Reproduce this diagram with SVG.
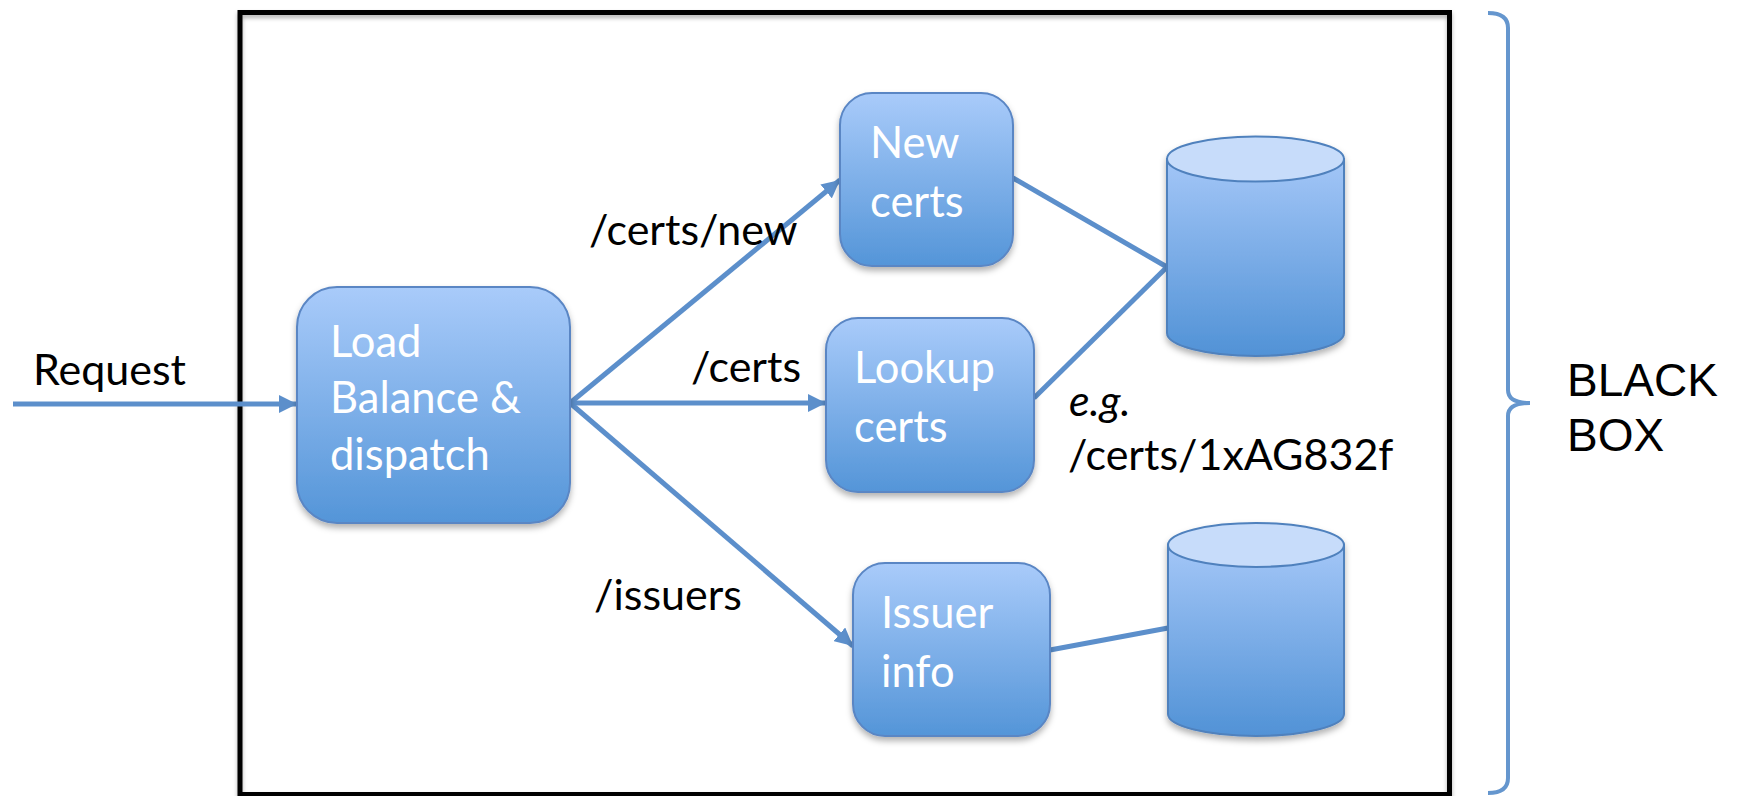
<svg xmlns="http://www.w3.org/2000/svg" width="1742" height="796" viewBox="0 0 1742 796">
  <style>
    .node-text { font-family: Lato, "Open Sans", sans-serif; font-size: 43.5px; fill: #ffffff; }
    .label { font-family: Lato, "Open Sans", sans-serif; font-size: 43px; fill: #000000; }
    .box { fill: url(#boxFill); stroke: #5A86C4; stroke-width: 2; filter: url(#shadow); }
    .drum { fill: url(#drumFill); stroke: #4F81BD; stroke-width: 2; }
    .drum-top { fill: #C7DCFA; stroke: #4F81BD; stroke-width: 2; }
    .edge { fill: none; stroke: #5C8FCB; stroke-width: 5; }
    .arrow { marker-end: url(#head); }
  </style>
  <defs>
    <linearGradient id="boxFill" x1="0" y1="0" x2="0" y2="1">
      <stop offset="0" stop-color="#A9CBFA"/>
      <stop offset="1" stop-color="#5495D8"/>
    </linearGradient>
    <linearGradient id="drumFill" x1="0" y1="0" x2="0" y2="1">
      <stop offset="0" stop-color="#A3C6F7"/>
      <stop offset="1" stop-color="#5192D6"/>
    </linearGradient>
    <filter id="shadow" x="-10%" y="-10%" width="130%" height="130%">
      <feDropShadow dx="0" dy="4" stdDeviation="3" flood-color="#000000" flood-opacity="0.3"/>
    </filter>
    <filter id="frameShadow" x="-5%" y="-5%" width="110%" height="110%">
      <feDropShadow dx="0" dy="3" stdDeviation="2" flood-color="#000000" flood-opacity="0.3"/>
    </filter>
    <marker id="head" markerUnits="userSpaceOnUse" markerWidth="20" markerHeight="18" refX="18" refY="9" orient="auto">
      <path d="M0,0 L18,9 L0,18 Z" fill="#5C8FCB"/>
    </marker>
  </defs>

  <!-- outer frame -->
  <rect id="frame" x="240" y="12.5" width="1209.5" height="782" fill="none" stroke="#000000" stroke-width="5" filter="url(#frameShadow)"/>

  <!-- brace and caption -->
  <g id="brace">
    <path d="M1488,13 Q1508,13 1508,28 L1508,390 Q1508,403 1530,403 Q1508,403 1508,416 L1508,778 Q1508,793 1488,793" fill="none" stroke="#6596CE" stroke-width="4"/>
    <text x="1567" y="396" font-family="'Liberation Sans', Arial, sans-serif" font-size="46">BLACK</text>
    <text x="1567" y="451" font-family="'Liberation Sans', Arial, sans-serif" font-size="46">BOX</text>
  </g>

  <!-- connectors -->
  <g id="connectors">
    <line class="edge arrow" x1="13" y1="404" x2="297" y2="404"/>
    <line class="edge arrow" x1="570" y1="403" x2="840" y2="180"/>
    <line class="edge arrow" x1="570" y1="403" x2="826" y2="403"/>
    <line class="edge arrow" x1="570" y1="403" x2="853" y2="646"/>
    <line class="edge" x1="1013" y1="178" x2="1167" y2="267"/>
    <line class="edge" x1="1034" y1="398" x2="1167" y2="267"/>
    <line class="edge" x1="1050" y1="650" x2="1168" y2="628"/>
  </g>

  <!-- edge labels -->
  <g id="labels">
    <text class="label" x="33" y="385">Request</text>
    <text class="label" x="589" y="245">/certs/new</text>
    <text class="label" x="691" y="382">/certs</text>
    <text class="label" x="594" y="610">/issuers</text>
    <text class="label" x="1069" y="416" font-style="italic">e.g.</text>
    <text class="label" x="1068" y="470">/certs/1xAG832f</text>
  </g>

  <g id="dispatch">
    <rect class="box" x="297" y="287" width="273" height="236" rx="40"/>
    <text class="node-text" x="330" y="357">Load</text>
    <text class="node-text" x="330" y="413">Balance &amp;</text>
    <text class="node-text" x="330" y="470">dispatch</text>
  </g>

  <g id="new-certs">
    <rect class="box" x="840" y="93" width="173" height="173" rx="32"/>
    <text class="node-text" x="870" y="158">New</text>
    <text class="node-text" x="870" y="217">certs</text>
  </g>

  <g id="lookup-certs">
    <rect class="box" x="826" y="318" width="208" height="174" rx="32"/>
    <text class="node-text" x="854" y="383">Lookup</text>
    <text class="node-text" x="854" y="442">certs</text>
  </g>

  <g id="issuer-info">
    <rect class="box" x="853" y="563" width="197" height="173" rx="32"/>
    <text class="node-text" x="881" y="628">Issuer</text>
    <text class="node-text" x="881" y="687">info</text>
  </g>

  <g id="cert-store" filter="url(#shadow)">
    <path class="drum" d="M1167,159 L1167,333 A88.5,23 0 0 0 1344,333 L1344,159 Z"/>
    <ellipse class="drum-top" cx="1255.5" cy="159" rx="88.5" ry="22.5"/>
  </g>

  <g id="issuer-store" filter="url(#shadow)">
    <path class="drum" d="M1168,545 L1168,714 A88,22 0 0 0 1344,714 L1344,545 Z"/>
    <ellipse class="drum-top" cx="1256" cy="545" rx="88" ry="22"/>
  </g>
</svg>
